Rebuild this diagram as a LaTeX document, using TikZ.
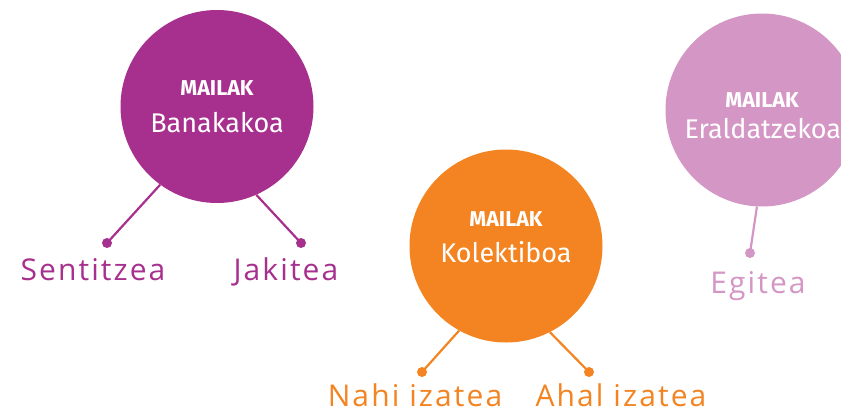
\documentclass[tikz,border=0pt]{standalone}
\usepackage{fontspec}
\setmainfont{Fira Sans}
\newfontfamily\hand{Open Sans}[LetterSpace=7]
\definecolor{cpurple}{RGB}{167,48,142}
\definecolor{corange}{RGB}{243,132,33}
\definecolor{clight}{RGB}{212,150,196}
\begin{document}
\begin{tikzpicture}[x=1pt,y=-1pt,
  bubble/.style={circle,minimum size=193pt,inner sep=0pt},
  head/.style={text=white,font=\fontsize{21.5}{21}\selectfont\bfseries,anchor=base},
  sub/.style={text=white,font=\fontsize{27}{27}\selectfont,anchor=base},
  lab/.style={font=\hand\fontsize{30}{30}\selectfont,anchor=base},
  dotc/.style={circle,fill,inner sep=0pt,minimum size=10pt},
  conn/.style={line width=2.2pt}]
\useasboundingbox (0,0) rectangle (841,413);
\begin{scope}
\clip (0,0) rectangle (841,413);
% purple
\node[bubble,fill=cpurple] (p) at (217,106.5) {};
\node[head] (ph) at (217,95) {MAILAK};
\node[sub] (ps) at (217,132) {Banakakoa};
\node[dotc,fill=cpurple] (pd1) at (107,243) {};
\node[dotc,fill=cpurple] (pd2) at (301,243) {};
\draw[conn,cpurple] (p.234.5) -- (pd1.center);
\draw[conn,cpurple] (p.294.3) -- (pd2.center);
\node[lab,text=cpurple] (pl1) at (93,280) {Sentitzea};
\node[lab,text=cpurple] (pl2) at (286,280) {Jakitea};
% orange
\node[bubble,fill=corange] (o) at (506,246) {};
\node[head] (oh) at (506,226) {MAILAK};
\node[sub] (os) at (506,262) {Kolektiboa};
\node[dotc,fill=corange] (od1) at (422,372) {};
\node[dotc,fill=corange] (od2) at (589,372) {};
\draw[conn,corange] (o.241.3) -- (od1.center);
\draw[conn,corange] (o.297.6) -- (od2.center);
\node[lab,text=corange] (ol1) at (415,406) {Nahi izatea};
\node[lab,text=corange] (ol2) at (621,406) {Ahal izatea};
% light
\node[bubble,fill=clight] (l) at (762,110) {};
\node[head] (lh) at (762,107) {MAILAK};
\node[sub,anchor=base west] (ls) at (681,138) {Eraldatzekoa};
\node[dotc,fill=clight] (ld) at (750,253) {};
\draw[conn,clight] (l.267) -- (ld.center);
\node[lab,text=clight] (ll) at (758,293) {Egitea};
\end{scope}
\end{tikzpicture}
\end{document}
